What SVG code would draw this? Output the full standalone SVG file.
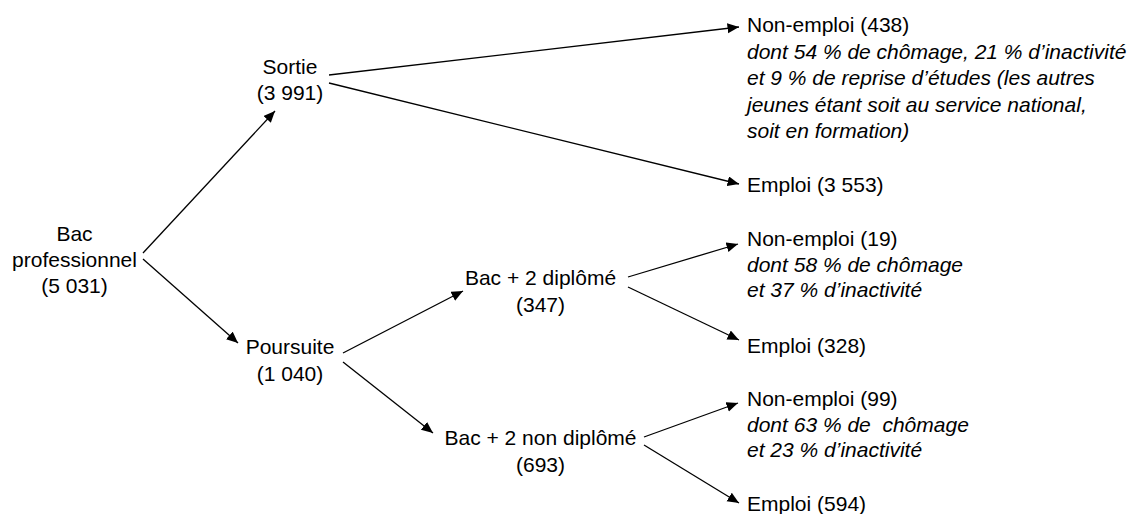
<svg xmlns="http://www.w3.org/2000/svg" width="1133" height="514" viewBox="0 0 1133 514">
<style>
text{font-family:"Liberation Sans",Arial,sans-serif;font-size:21px;fill:#000}
.c{text-anchor:middle}
.i{font-style:italic}
.pre{white-space:pre}
.e{stroke:#000;stroke-width:1.3;fill:none;marker-end:url(#ah)}
</style>
<defs>
<marker id="ah" markerUnits="userSpaceOnUse" markerWidth="13" markerHeight="11" refX="11.5" refY="5" orient="auto">
<path d="M0,0 L11.5,5 L0,10 Z" fill="#000"/>
</marker>
</defs>
<rect width="1133" height="514" fill="#fff"/>
<g id="connectors">
<line class="e" x1="143" y1="253" x2="275" y2="111"/>
<line class="e" x1="143" y1="259" x2="238" y2="343"/>
<line class="e" x1="329" y1="75" x2="739" y2="27"/>
<line class="e" x1="329" y1="83" x2="739" y2="184"/>
<line class="e" x1="343" y1="353" x2="463" y2="291"/>
<line class="e" x1="343" y1="362" x2="433" y2="433"/>
<line class="e" x1="628" y1="277" x2="738" y2="244"/>
<line class="e" x1="628" y1="287" x2="739" y2="340"/>
<line class="e" x1="644" y1="437" x2="738" y2="403"/>
<line class="e" x1="644" y1="445" x2="739" y2="503"/>
</g>
<g id="bacpro">
<text class="c" x="74.5" y="241">Bac</text>
<text class="c" x="74.5" y="267">professionnel</text>
<text class="c" x="74.5" y="293">(5 031)</text>
</g>
<g id="sortie">
<text class="c" x="290" y="74">Sortie</text>
<text class="c" x="290" y="100">(3 991)</text>
</g>
<g id="poursuite">
<text class="c" x="290" y="354">Poursuite</text>
<text class="c" x="290" y="380.5">(1 040)</text>
</g>
<g id="bac2dip">
<text class="c" x="540.5" y="285">Bac + 2 diplômé</text>
<text class="c" x="540.5" y="311.5">(347)</text>
</g>
<g id="bac2nondip">
<text class="c" x="540.5" y="445">Bac + 2 non diplômé</text>
<text class="c" x="540.5" y="471.5">(693)</text>
</g>
<g id="nonemploi1">
<text x="747" y="32.3">Non-emploi (438)</text>
<text class="i" x="747" y="58.8">dont 54 % de chômage, 21 % d’inactivité</text>
<text class="i" x="747" y="85.3">et 9 % de reprise d’études (les autres</text>
<text class="i" x="747" y="111.8">jeunes étant soit au service national,</text>
<text class="i" x="747" y="138.3">soit en formation)</text>
</g>
<g id="emploi1">
<text x="747" y="192.3">Emploi (3 553)</text>
</g>
<g id="nonemploi2">
<text x="747" y="246">Non-emploi (19)</text>
<text class="i" x="747" y="271.7">dont 58 % de chômage</text>
<text class="i" x="747" y="297">et 37 % d’inactivité</text>
</g>
<g id="emploi2">
<text x="747" y="352.5">Emploi (328)</text>
</g>
<g id="nonemploi3">
<text x="747" y="405.5">Non-emploi (99)</text>
<text class="i pre" x="747" y="431.5">dont 63 % de  chômage</text>
<text class="i" x="747" y="457">et 23 % d’inactivité</text>
</g>
<g id="emploi3">
<text x="747" y="511">Emploi (594)</text>
</g>
</svg>
